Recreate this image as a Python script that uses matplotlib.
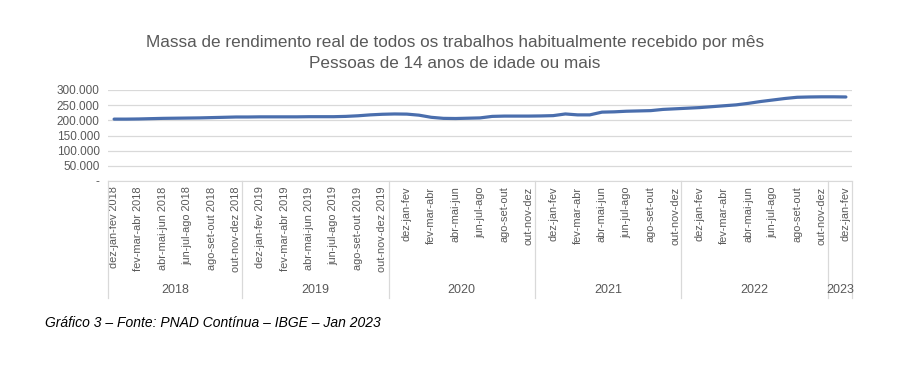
import numpy as np
import matplotlib
matplotlib.use("Agg")
import matplotlib.pyplot as plt
from matplotlib.ticker import FuncFormatter

plt.rcParams["font.family"] = ["Liberation Sans", "DejaVu Sans"]

# ==========================================================
# Dados (R$ milhões, trimestres móveis)
# ==========================================================

massa = [
    204, 204, 204.5, 205.5, 206.5, 207, 207.5, 208, 209, 210, 211,            # 2018
    211, 211.5, 211.5, 211.5, 211.5, 212, 212, 212, 213, 215, 218, 220,       # 2019
    221, 220.5, 217, 210, 206.5, 206, 207, 208, 213, 214, 214, 214,           # 2020
    214.5, 215.5, 221, 218, 218, 227, 228, 230, 231, 232, 236, 238,           # 2021
    240, 242, 245, 248, 251, 256, 262, 267, 272, 276, 277, 277.5,             # 2022
    277.5, 277,                                                               # 2023
]
massa = np.array(massa) * 1000

rotulos = [
    "dez-jan-fev 2018", "fev-mar-abr 2018", "abr-mai-jun 2018",
    "jun-jul-ago 2018", "ago-set-out 2018", "out-nov-dez 2018",
    "dez-jan-fev 2019", "fev-mar-abr 2019", "abr-mai-jun 2019",
    "jun-jul-ago 2019", "ago-set-out 2019", "out-nov-dez 2019",
    "dez-jan-fev", "fev-mar-abr", "abr-mai-jun", "jun-jul-ago", "ago-set-out", "out-nov-dez",
    "dez-jan-fev", "fev-mar-abr", "abr-mai-jun", "jun-jul-ago", "ago-set-out", "out-nov-dez",
    "dez-jan-fev", "fev-mar-abr", "abr-mai-jun", "jun-jul-ago", "ago-set-out", "out-nov-dez",
    "dez-jan-fev",
]

anos = ["2018", "2019", "2020", "2021", "2022", "2023"]
meses_por_ano = [11, 12, 12, 12, 12, 2]

# ==========================================================
# Figura
# ==========================================================

cinza = "#595959"
azul = "#4a6ead"

fig = plt.figure(figsize=(9.24, 3.74), dpi=100)
ax = fig.add_axes([108 / 924, 1 - 181 / 374, (852 - 108) / 924, 91 / 374])

x = np.arange(len(massa))
ax.plot(x, massa, color=azul, linewidth=2.3, solid_capstyle="round")

ax.set_xlim(-0.5, len(massa) - 0.5)
ax.set_ylim(0, 300000)
ax.set_yticks(np.arange(0, 300001, 50000))
ax.yaxis.set_major_formatter(
    FuncFormatter(lambda v, p: "-" if v == 0 else f"{v:,.0f}".replace(",", "."))
)
ax.grid(axis="y", color="#d9d9d9", linewidth=0.9)
ax.set_axisbelow(True)

for s in ["top", "right", "left"]:
    ax.spines[s].set_visible(False)
ax.spines["bottom"].set_color("#d9d9d9")

ax.tick_params(axis="y", length=0, labelsize=8.5, labelcolor=cinza, pad=6)

ax.set_xticks(np.arange(0, len(massa), 2))
ax.set_xticklabels(rotulos, rotation=90, fontsize=7.9, color=cinza)
ax.tick_params(axis="x", length=0, pad=4)

# separadores e rótulos dos anos
trans = ax.get_xaxis_transform()
limites = np.concatenate([[0], np.cumsum(meses_por_ano)]) - 0.5
for b in limites:
    ax.plot([b, b], [0, -1.29], transform=trans, color="#d9d9d9",
            linewidth=0.9, clip_on=False)
for i, ano in enumerate(anos):
    centro = (limites[i] + limites[i + 1]) / 2
    ax.text(centro, -1.20, ano, transform=trans, ha="center", va="center",
            fontsize=9, color=cinza)

fig.text(455 / 924, 1 - 42 / 374,
         "Massa de rendimento real de todos os trabalhos habitualmente recebido por mês",
         ha="center", va="center", fontsize=12.3, color=cinza)
fig.text(455 / 924, 1 - 63 / 374, "Pessoas de 14 anos de idade ou mais",
         ha="center", va="center", fontsize=12.3, color=cinza)

fig.text(45 / 924, 1 - 323 / 374,
         "Gráfico 3 – Fonte: PNAD Contínua – IBGE – Jan 2023",
         ha="left", va="center", fontsize=10, style="italic", color="black")

fig.savefig("out.png", dpi=100)
